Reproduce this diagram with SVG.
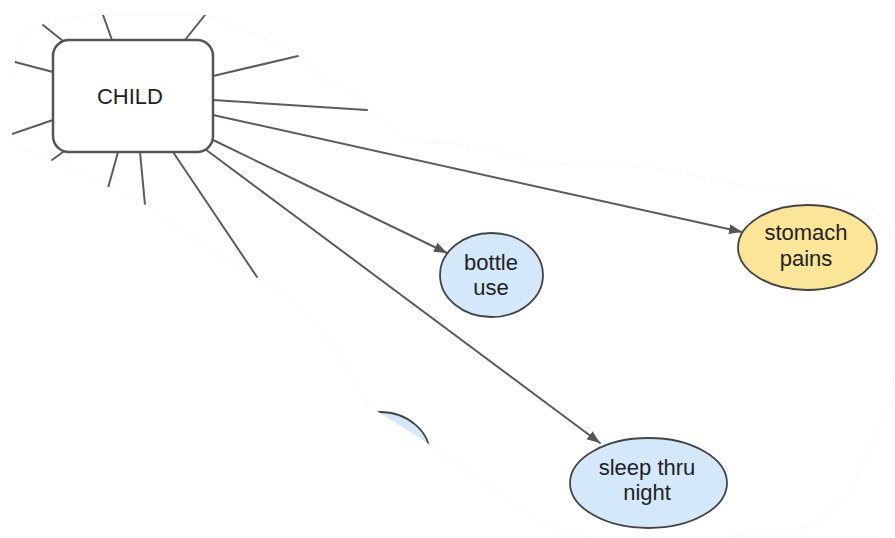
<svg xmlns="http://www.w3.org/2000/svg" width="895" height="538" viewBox="0 0 895 538">
<style>
.edge{stroke:#5c5c5c;stroke-width:2;fill:none;stroke-linecap:round}
.arrow{marker-end:url(#ah)}
.lbl{font-family:"Liberation Sans",Arial,sans-serif;font-size:22px;fill:#222;text-anchor:middle}
.blue{fill:#d3e9fb;stroke:#444;stroke-width:1.8}
.yellow{fill:#fbe597;stroke:#444;stroke-width:1.8}
.edgeclip{fill:none;stroke:#ececec;stroke-width:0.7;stroke-dasharray:3 3}
</style>
<defs>
<marker id="ah" markerUnits="userSpaceOnUse" markerWidth="14" markerHeight="12" refX="13" refY="5" orient="auto">
<path d="M0,0 L13,5 L0,10 z" fill="#555"/>
</marker>
<clipPath id="region">
<path d="M13,77 L15,60 L20,37 L43,23 L93,15 L207,15 L290,50 L310,63 L327,82 L337,82 L367,107 L407,142 L450,143 L483,147 L533,163 L650,167 L750,187 L820,190 L860,202 L885,220 L893,240 L895,300 L893,400 L877,433 L850,493 L817,523 L790,532 L760,531 L727,537 L727,538 L600,538 L587,537 L540,523 L510,500 L490,487 L467,470 L420,438 L380,413 L367,403 L360,390 L333,343 L300,307 L267,282 L250,275 L200,243 L150,207 L100,183 L50,160 L25,150 L12,142 Z"/>
</clipPath>
</defs>
<rect width="895" height="538" fill="#fff"/>
<path class="edgeclip" d="M13,77 L15,60 L20,37 L43,23 L93,15 L207,15 L290,50 L310,63 L327,82 L337,82 L367,107 L407,142 L450,143 L483,147 L533,163 L650,167 L750,187 L820,190 L860,202 L885,220 L893,240 L895,300 L893,400 L877,433 L850,493 L817,523 L790,532 L760,531 L727,537 M587,537 L540,523 L510,500 L490,487 L467,470 L420,438 L380,413 L367,403 L360,390 L333,343 L300,307 L267,282 L250,275 L200,243 L150,207 L100,183 L50,160 L25,150 L12,142"/>
<g id="connectors" clip-path="url(#region)">
<line class="edge" x1="112" y1="40" x2="103" y2="15"/>
<line class="edge" x1="185" y1="40" x2="205" y2="15"/>
<line class="edge" x1="63" y1="41" x2="43" y2="25"/>
<line class="edge" x1="53" y1="72" x2="15" y2="62"/>
<line class="edge" x1="53" y1="120" x2="12" y2="134"/>
<line class="edge" x1="63" y1="152" x2="52" y2="160"/>
<line class="edge" x1="118" y1="152" x2="108" y2="188"/>
<line class="edge" x1="140" y1="152" x2="145" y2="205"/>
<line class="edge" x1="173" y1="152" x2="257" y2="277"/>
<line class="edge" x1="213" y1="76" x2="298" y2="56"/>
<line class="edge" x1="213" y1="100" x2="367" y2="110"/>
<line class="edge arrow" x1="213" y1="115" x2="742" y2="232"/>
<line class="edge arrow" x1="211" y1="139" x2="447" y2="253"/>
<line class="edge arrow" x1="205" y1="149" x2="600" y2="443"/>
</g>
<g id="child">
<rect x="53" y="40" width="160" height="112" rx="16" ry="16" fill="#fff" stroke="#555" stroke-width="2.5"/>
<text class="lbl" x="130" y="104" font-size="22.5">CHILD</text>
</g>
<g id="hidden-node" clip-path="url(#region)">
<ellipse class="blue" cx="380" cy="455" rx="50" ry="43"/>
</g>
<g id="bottle-use">
<ellipse class="blue" cx="491.5" cy="275" rx="51.5" ry="42"/>
<text class="lbl" x="491" y="270">bottle</text>
<text class="lbl" x="491" y="295">use</text>
</g>
<g id="stomach-pains">
<ellipse class="yellow" cx="807.5" cy="247.5" rx="69.5" ry="42.5"/>
<text class="lbl" x="806" y="240">stomach</text>
<text class="lbl" x="806" y="266">pains</text>
</g>
<g id="sleep-thru-night">
<ellipse class="blue" cx="648.5" cy="483" rx="78.5" ry="45"/>
<text class="lbl" x="647" y="475">sleep thru</text>
<text class="lbl" x="647" y="500">night</text>
</g>
</svg>
